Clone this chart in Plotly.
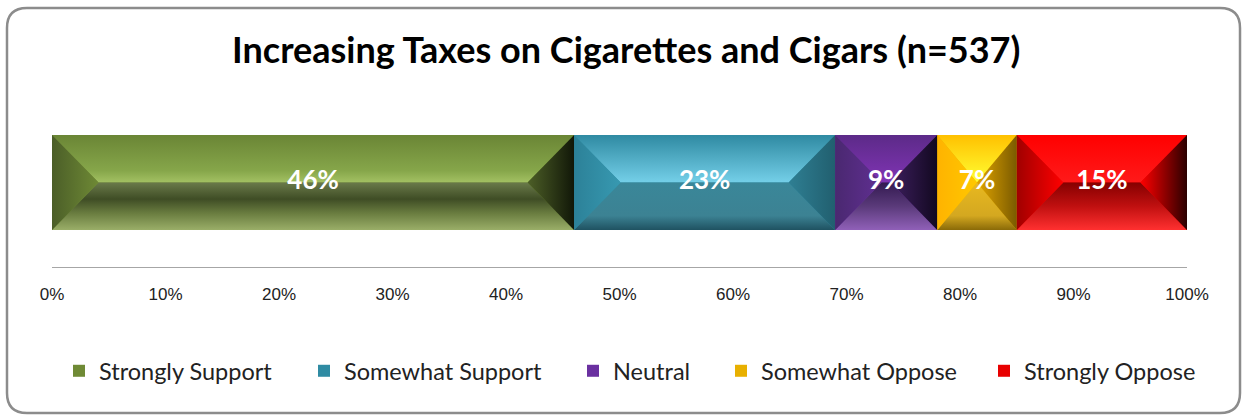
import plotly.graph_objects as go
import numpy as np

# ---- data ----
categories = ["Strongly Support", "Somewhat Support", "Neutral", "Somewhat Oppose", "Strongly Oppose"]
values = [46, 23, 9, 7, 15]
labels = ["46%", "23%", "9%", "7%", "15%"]
tick_vals = [0, 10, 20, 30, 40, 50, 60, 70, 80, 90, 100]
tick_text = ["0%", "10%", "20%", "30%", "40%", "50%", "60%", "70%", "80%", "90%", "100%"]
title_text = "Increasing Taxes on Cigarettes and Cigars (n=537)"

# ---- styles ----
base_colors = ["#6f8a35", "#2f8ba3", "#6a30a0", "#e8b000", "#e80000"]
legend_text_px = [97, 342, 611, 759, 1022]
faces = [
    dict(top=[[0, "#a3c163"], [0.25, "#86a64a"], [1, "#6a8535"]],
         bottom=[[0, "#9aae68"], [0.35, "#6a7d40"], [0.65, "#3f4d25"], [1, "#6a7a4a"]],
         left=[[0, "#4b5e28"], [1, "#6e8935"]],
         right=[[0, "#4d5f27"], [1, "#111708"]]),
    dict(top=[[0, "#74cfe8"], [1, "#2f8aa2"]],
         bottom=[[0, "#1f5261"], [0.3, "#3c8293"], [1, "#3a8799"]],
         left=[[0, "#2c8198"], [1, "#3799b1"]],
         right=[[0, "#2f7f93"], [1, "#215f6f"]]),
    dict(top=[[0, "#8034b4"], [1, "#5c2a88"]],
         bottom=[[0, "#9060b8"], [0.5, "#5a3a7a"], [1, "#331a50"]],
         left=[[0, "#4a2870"], [1, "#602f92"]],
         right=[[0, "#3d1f5e"], [1, "#120820"]]),
    dict(top=[[0, "#ffff33"], [1, "#ffc000"]],
         bottom=[[0, "#8a6a08"], [0.3, "#d4a820"], [1, "#e8b820"]],
         left=[[0, "#ffb300"], [1, "#ffc800"]],
         right=[[0, "#e0a400"], [1, "#7a5a00"]]),
    dict(top=[[0, "#ff1a1a"], [1, "#ff0000"]],
         bottom=[[0, "#ff3030"], [0.5, "#c01010"], [1, "#850000"]],
         left=[[0, "#a00000"], [1, "#ff0000"]],
         right=[[0, "#ff0000"], [1, "#2a0000"]]),
]

BAR_W = 0.562
H = BAR_W / 2
BEVEL = 4.1  # in x units

ML, MR, MT, MB = 52, 58, 98, 148
W, HT = 1245, 415
PW = W - ML - MR
PH = HT - MT - MB

fig = go.Figure()

bases = np.concatenate([[0], np.cumsum(values)[:-1]])
legend_names = ["legend", "legend2", "legend3", "legend4", "legend5"]

for cat, v, b, col, lg in zip(categories, values, bases, base_colors, legend_names):
    fig.add_trace(go.Bar(
        y=[0], x=[v], base=[b], orientation="h", name=cat, width=BAR_W,
        marker=dict(color=col, line=dict(width=0)), hoverinfo="skip", legend=lg,
    ))

for v, b, f in zip(values, bases, faces):
    x0, x1 = b, b + v
    d = min(BEVEL, v / 2)
    polys = {
        "top": ([x0, x1, x1 - d, x0 + d, x0], [H, H, 0, 0, H], "vertical"),
        "bottom": ([x0, x1, x1 - d, x0 + d, x0], [-H, -H, 0, 0, -H], "vertical"),
        "left": ([x0, x0 + d, x0, x0], [H, 0, -H, H], "horizontal"),
        "right": ([x1, x1 - d, x1, x1], [H, 0, -H, H], "horizontal"),
    }
    for key in ["top", "bottom", "left", "right"]:
        xs, ys, gtype = polys[key]
        fig.add_trace(go.Scatter(
            x=xs, y=ys, mode="lines", fill="toself", showlegend=False,
            line=dict(width=0), hoverinfo="skip",
            fillgradient=dict(type=gtype, colorscale=f[key]),
        ))

mids = bases + np.array(values) / 2
fig.add_trace(go.Scatter(
    x=mids, y=[0] * len(values), mode="text", text=labels, showlegend=False,
    textfont=dict(family="Lato, Open Sans, sans-serif", size=26, color="white", weight="bold"),
    hoverinfo="skip",
))

# rounded frame
def px_to_paper(px, py):
    return (px - ML) / PW, (HT - MB - py) / PH

fx0, fy0, fx1, fy1, r = 7, 8, 1240, 413, 20
def P(px, py):
    x, y = px_to_paper(px, py)
    return f"{x:.5f},{y:.5f}"
path = (f"M {P(fx0 + r, fy0)} L {P(fx1 - r, fy0)} Q {P(fx1, fy0)} {P(fx1, fy0 + r)} "
        f"L {P(fx1, fy1 - r)} Q {P(fx1, fy1)} {P(fx1 - r, fy1)} "
        f"L {P(fx0 + r, fy1)} Q {P(fx0, fy1)} {P(fx0, fy1 - r)} "
        f"L {P(fx0, fy0 + r)} Q {P(fx0, fy0)} {P(fx0 + r, fy0)} Z")
fig.add_shape(type="path", path=path, xref="paper", yref="paper",
              line=dict(color="#8c8c8c", width=2.5), layer="below")

legend_font = dict(family="Lato, Open Sans, sans-serif", size=23.5, color="#222")
legend_layouts = {}
for lg, tpx in zip(legend_names, legend_text_px):
    legend_layouts[lg] = dict(
        orientation="h", x=(tpx - 38 - ML) / PW, xanchor="left",
        y=(HT - MB - 371) / PH, yanchor="middle",
        font=legend_font, itemwidth=30, bgcolor="rgba(0,0,0,0)",
    )

fig.update_layout(
    width=W, height=HT,
    margin=dict(l=ML, r=MR, t=MT, b=MB),
    paper_bgcolor="white", plot_bgcolor="white",
    barmode="stack",
    title=dict(text=title_text, x=0.503, xref="container", y=1 - 50 / HT, yref="container",
               xanchor="center", yanchor="middle",
               font=dict(family="Lato, Open Sans, sans-serif", size=36, color="black", weight="bold")),
    xaxis=dict(range=[0, 100], tickvals=tick_vals, ticktext=tick_text, showgrid=False,
               zeroline=False, showline=True, linecolor="#a6a6a6", linewidth=1,
               ticks="outside", ticklen=12, tickcolor="rgba(0,0,0,0)",
               tickfont=dict(family="Liberation Sans Narrow, Arial Narrow, sans-serif", size=17, color="#222")),
    yaxis=dict(range=[-0.5, 0.5], visible=False, fixedrange=True),
    showlegend=True,
    **legend_layouts,
)

fig.write_html("out.html", config={"displayModeBar": False},
               post_script="document.body.style.margin='0';")
